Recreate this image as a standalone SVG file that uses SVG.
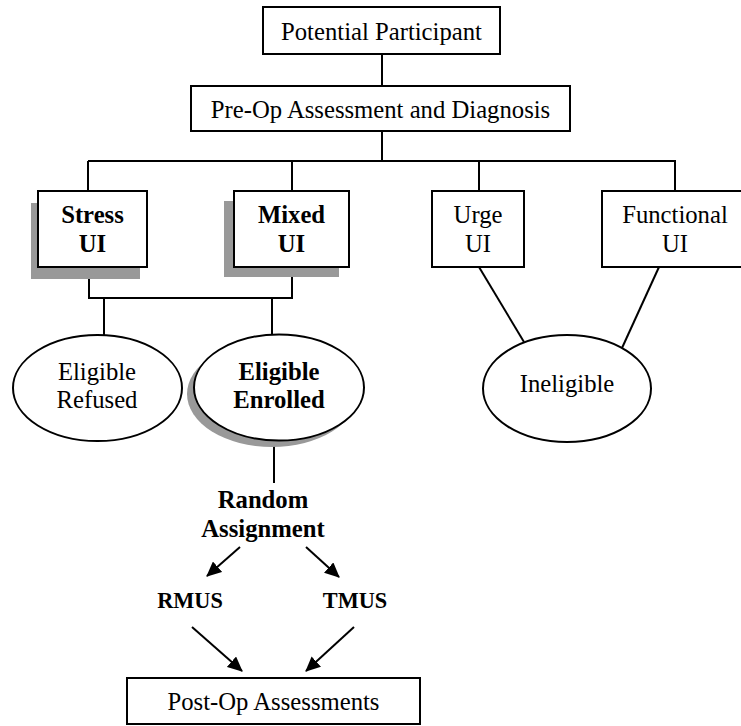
<svg xmlns="http://www.w3.org/2000/svg" width="741" height="726" viewBox="0 0 741 726">
<style>
.box{fill:#fff;stroke:#000;stroke-width:2}
.sh{fill:#999;stroke:none}
.ln{stroke:#000;stroke-width:2;fill:none}
.t{font-family:"Liberation Serif","Times New Roman",serif;font-size:24.7px;fill:#000;text-anchor:middle}
.b{font-weight:bold}
.s{font-size:22.3px}
</style>
<defs>
<marker id="ah" markerUnits="userSpaceOnUse" markerWidth="16" markerHeight="14" refX="14" refY="7" orient="auto">
<path d="M0,0 L15,7 L0,14 Z" fill="#000"/>
</marker>
</defs>
<g id="connectors">
<line class="ln" x1="382" y1="54" x2="382" y2="86"/>
<line class="ln" x1="382" y1="131" x2="382" y2="161"/>
<line class="ln" x1="88" y1="161" x2="676" y2="161"/>
<line class="ln" x1="88" y1="161" x2="88" y2="191"/>
<line class="ln" x1="292" y1="161" x2="292" y2="191"/>
<line class="ln" x1="479" y1="161" x2="479" y2="191"/>
<line class="ln" x1="675" y1="161" x2="675" y2="191"/>
<polyline class="ln" points="89,267 89,298 292,298 292,267"/>
<line class="ln" x1="104" y1="298" x2="104" y2="335"/>
<line class="ln" x1="272" y1="298" x2="272" y2="335"/>
<line class="ln" x1="479" y1="267" x2="524" y2="342"/>
<line class="ln" x1="659" y1="267" x2="622" y2="348"/>
<line class="ln" x1="274" y1="441" x2="274" y2="483"/>
<line class="ln" x1="240" y1="547" x2="207" y2="576" marker-end="url(#ah)"/>
<line class="ln" x1="306" y1="547" x2="339" y2="577" marker-end="url(#ah)"/>
<line class="ln" x1="192" y1="627" x2="242" y2="671" marker-end="url(#ah)"/>
<line class="ln" x1="354" y1="627" x2="306" y2="671" marker-end="url(#ah)"/>
</g>
<g id="potential">
<rect class="box" x="263" y="7" width="237" height="47"/>
<text class="t" x="381.5" y="40">Potential Participant</text>
</g>
<g id="preop">
<rect class="box" x="191" y="86" width="379" height="45"/>
<text class="t" x="380.5" y="118">Pre-Op Assessment and Diagnosis</text>
</g>
<g id="stress">
<rect class="sh" x="31" y="203" width="109" height="76"/>
<rect class="box" x="38" y="191" width="109" height="76"/>
<text class="t b" x="92.5" y="223">Stress</text>
<text class="t b" x="92.5" y="252">UI</text>
</g>
<g id="mixed">
<rect class="sh" x="224" y="201" width="115" height="76"/>
<rect class="box" x="234" y="191" width="115" height="76"/>
<text class="t b" x="291.5" y="223">Mixed</text>
<text class="t b" x="291.5" y="252">UI</text>
</g>
<g id="urge">
<rect class="box" x="432" y="191" width="92" height="76"/>
<text class="t" x="478" y="223">Urge</text>
<text class="t" x="478" y="252">UI</text>
</g>
<g id="functional">
<rect class="box" x="602" y="191" width="146" height="76"/>
<text class="t" x="675" y="223">Functional</text>
<text class="t" x="675" y="252">UI</text>
</g>
<g id="refused">
<ellipse class="box" cx="97.5" cy="388" rx="84.5" ry="53"/>
<text class="t" x="97" y="380">Eligible</text>
<text class="t" x="97" y="408">Refused</text>
</g>
<g id="enrolled">
<ellipse class="sh" cx="272" cy="394" rx="85" ry="53"/>
<ellipse class="box" cx="279" cy="387.5" rx="85" ry="53"/>
<text class="t b" x="279" y="380">Eligible</text>
<text class="t b" x="279" y="408">Enrolled</text>
</g>
<g id="ineligible">
<ellipse class="box" cx="567" cy="388.5" rx="84" ry="53.5"/>
<text class="t" x="567" y="392">Ineligible</text>
</g>
<g id="random">
<text class="t b" x="263" y="508">Random</text>
<text class="t b" x="263" y="537">Assignment</text>
</g>
<g id="rmus">
<text class="t b s" x="190" y="608">RMUS</text>
</g>
<g id="tmus">
<text class="t b s" x="355" y="608">TMUS</text>
</g>
<g id="postop">
<rect class="box" x="127" y="678" width="293" height="46"/>
<text class="t" x="273.5" y="710">Post-Op Assessments</text>
</g>
</svg>
